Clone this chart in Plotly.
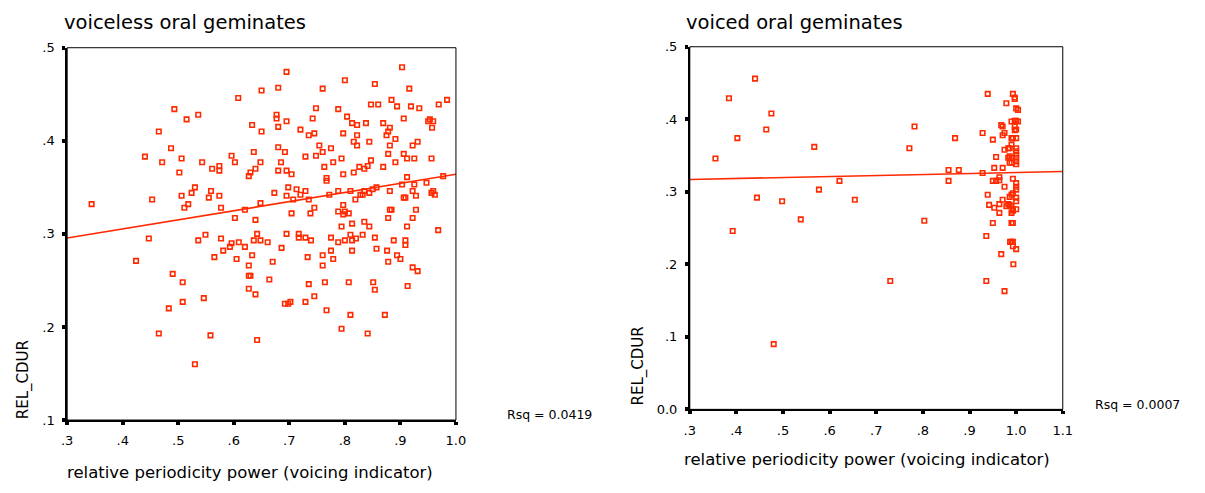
import plotly.graph_objects as go

W, H = 1205, 493

# ---------------- data ----------------
left_title = "voiceless oral geminates"
right_title = "voiced oral geminates"
x_title = "relative periodicity power (voicing indicator)"
y_title = "REL_CDUR"
left_rsq = "Rsq = 0.0419"
right_rsq = "Rsq = 0.0007"

left_x = [
    0.344, 0.493, 0.515, 0.536, 0.465, 0.608, 0.650, 0.633, 0.650, 0.487, 0.440, 0.471, 0.506, 0.543, 0.596, 0.602,
    0.636, 0.648, 0.502, 0.561, 0.574, 0.574, 0.639, 0.630, 0.627, 0.530, 0.524, 0.559, 0.506, 0.555, 0.574, 0.453,
    0.518, 0.511, 0.577, 0.620, 0.648, 0.602, 0.639, 0.642,
    0.447, 0.536, 0.549, 0.577, 0.596, 0.593, 0.609, 0.620, 0.636, 0.648, 0.581, 0.565, 0.605, 0.633, 0.627, 0.627,
    0.630, 0.627, 0.639, 0.424, 0.490, 0.508, 0.508, 0.546, 0.483, 0.465, 0.558, 0.642, 0.530,
    0.695, 0.903, 0.800, 0.854, 0.680, 0.760, 0.916, 0.984, 0.884, 0.847, 0.860, 0.894, 0.919, 0.934, 0.969, 0.748,
    0.788, 0.677, 0.677, 0.742, 0.804, 0.695, 0.813, 0.822, 0.838, 0.869, 0.906, 0.950, 0.953, 0.959, 0.957, 0.680,
    0.720, 0.881, 0.878, 0.875, 0.735, 0.745, 0.797, 0.822, 0.891, 0.816, 0.822, 0.844, 0.881, 0.931, 0.922, 0.680,
    0.754, 0.692, 0.760, 0.775, 0.748, 0.729, 0.878, 0.906, 0.912, 0.925, 0.956, 0.794, 0.685, 0.779, 0.847, 0.891,
    0.841, 0.835, 0.826, 0.869, 0.763, 0.680, 0.695, 0.704, 0.797, 0.816, 0.767, 0.767, 0.977, 0.912, 0.947, 0.903,
    0.925, 0.698, 0.713, 0.729, 0.720, 0.673, 0.695, 0.707, 0.735, 0.772, 0.788, 0.810, 0.828, 0.832, 0.835, 0.844,
    0.857, 0.850, 0.881, 0.922, 0.928, 0.906, 0.909, 0.956, 0.959, 0.962, 0.819, 0.745, 0.704, 0.738, 0.797, 0.788,
    0.800, 0.807, 0.797, 0.881, 0.884, 0.928, 0.878, 0.922, 0.813, 0.835, 0.844, 0.794, 0.912, 0.968, 0.695, 0.717,
    0.717, 0.729, 0.739, 0.775, 0.788, 0.800, 0.810, 0.813, 0.820, 0.832, 0.854, 0.888, 0.909, 0.909, 0.661, 0.686,
    0.733, 0.760, 0.775, 0.779, 0.813, 0.857, 0.876, 0.894, 0.900, 0.878, 0.922, 0.931, 0.670, 0.760, 0.664, 0.735,
    0.764, 0.807, 0.851, 0.854, 0.913, 0.745, 0.729, 0.692, 0.698, 0.702, 0.767, 0.810, 0.872, 0.794, 0.841,
]
left_y = [
    0.332, 0.434, 0.423, 0.428, 0.410, 0.446, 0.454, 0.417, 0.410, 0.392, 0.383, 0.377, 0.381, 0.377, 0.384, 0.377,
    0.388, 0.377, 0.366, 0.370, 0.373, 0.368, 0.370, 0.366, 0.362, 0.350, 0.344, 0.346, 0.341, 0.339, 0.341, 0.337,
    0.332, 0.328, 0.328, 0.326, 0.333, 0.317, 0.315, 0.300,
    0.295, 0.293, 0.299, 0.295, 0.290, 0.286, 0.291, 0.286, 0.293, 0.293, 0.282, 0.275, 0.273, 0.277, 0.266, 0.255,
    0.255, 0.241, 0.235, 0.271, 0.257, 0.248, 0.227, 0.231, 0.220, 0.193, 0.191, 0.186, 0.160,
    0.474, 0.479, 0.465, 0.461, 0.457, 0.456, 0.456, 0.444, 0.444, 0.439, 0.439, 0.437, 0.437, 0.435, 0.439, 0.435,
    0.434, 0.428, 0.424, 0.424, 0.426, 0.421, 0.419, 0.417, 0.419, 0.419, 0.424, 0.421, 0.423, 0.421, 0.414, 0.415,
    0.412, 0.414, 0.410, 0.406, 0.406, 0.408, 0.408, 0.406, 0.402, 0.399, 0.395, 0.399, 0.395, 0.399, 0.395, 0.393,
    0.395, 0.388, 0.388, 0.392, 0.384, 0.383, 0.386, 0.386, 0.381, 0.381, 0.381, 0.381, 0.377, 0.377, 0.379, 0.377,
    0.373, 0.370, 0.372, 0.372, 0.372, 0.368, 0.368, 0.364, 0.364, 0.366, 0.360, 0.357, 0.362, 0.361, 0.355, 0.353,
    0.353, 0.350, 0.348, 0.346, 0.342, 0.344, 0.341, 0.337, 0.337, 0.342, 0.346, 0.346, 0.342, 0.342, 0.346, 0.344,
    0.350, 0.348, 0.346, 0.346, 0.341, 0.339, 0.339, 0.344, 0.346, 0.342, 0.337, 0.328, 0.322, 0.322, 0.331, 0.324,
    0.324, 0.322, 0.321, 0.326, 0.326, 0.326, 0.317, 0.317, 0.311, 0.313, 0.308, 0.308, 0.308, 0.304, 0.300, 0.300,
    0.296, 0.296, 0.293, 0.296, 0.291, 0.293, 0.299, 0.293, 0.295, 0.299, 0.296, 0.293, 0.293, 0.288, 0.291, 0.285,
    0.275, 0.277, 0.282, 0.273, 0.282, 0.284, 0.282, 0.277, 0.273, 0.270, 0.264, 0.260, 0.270, 0.266, 0.251, 0.246,
    0.248, 0.248, 0.248, 0.240, 0.244, 0.233, 0.227, 0.225, 0.225, 0.227, 0.218, 0.213, 0.213, 0.198, 0.193,
]

right_x = [
    0.355, 0.384, 0.402, 0.392, 0.440, 0.444, 0.464, 0.475, 0.498, 0.538, 0.567, 0.577, 0.621, 0.654, 0.771, 0.782,
    0.803, 0.855, 0.877, 0.855, 0.869, 0.928, 0.928, 0.939, 0.939, 0.936, 0.942, 0.950, 0.953, 0.957, 0.950, 0.957,
    0.953, 0.950, 0.964, 0.964, 0.964, 0.964, 0.971, 0.971, 0.975, 0.968, 0.971, 0.975, 0.971, 0.975, 0.979, 0.983,
    0.986, 0.983, 0.986, 0.990, 0.986, 0.990, 0.983, 0.979, 0.986, 0.990, 0.986, 0.990, 0.990, 0.993, 0.990, 0.993,
    0.990, 0.990, 0.990, 0.993, 0.997, 0.997, 0.997, 1.000, 1.004, 0.997, 1.000, 0.997, 1.000, 1.004, 0.993, 1.000,
    1.000, 1.000, 1.000, 1.000, 1.000, 1.000, 0.993, 1.000, 1.000, 1.000, 0.993, 1.000, 1.000, 1.000, 0.993, 0.987,
    0.990, 0.993, 0.993, 1.000, 0.968, 0.994, 0.936, 0.975, 0.730, 0.480,
]
right_y = [
    0.346, 0.429, 0.374, 0.246, 0.456, 0.292, 0.386, 0.408, 0.287, 0.262, 0.362, 0.303, 0.315, 0.289, 0.360, 0.390,
    0.260, 0.330, 0.330, 0.315, 0.374, 0.381, 0.326, 0.435, 0.296, 0.239, 0.282, 0.372, 0.333, 0.348, 0.315, 0.315,
    0.278, 0.257, 0.320, 0.316, 0.283, 0.271, 0.333, 0.289, 0.307, 0.392, 0.390, 0.381, 0.378, 0.358, 0.422, 0.360,
    0.360, 0.347, 0.349, 0.347, 0.340, 0.340, 0.283, 0.280, 0.282, 0.280, 0.293, 0.296, 0.271, 0.274, 0.257, 0.257,
    0.397, 0.374, 0.365, 0.435, 0.430, 0.428, 0.398, 0.398, 0.397, 0.385, 0.386, 0.390, 0.415, 0.413, 0.374, 0.374,
    0.360, 0.356, 0.351, 0.347, 0.342, 0.338, 0.318, 0.312, 0.307, 0.303, 0.298, 0.292, 0.287, 0.276, 0.276, 0.231,
    0.231, 0.231, 0.225, 0.221, 0.214, 0.200, 0.177, 0.163, 0.177, 0.090,
]

# fitted regression lines (endpoints)
left_fit_x = [0.3, 1.0]
left_fit_y = [0.2955, 0.364]
right_fit_x = [0.3, 1.1]
right_fit_y = [0.317, 0.328]

left_xticks = [0.3, 0.4, 0.5, 0.6, 0.7, 0.8, 0.9, 1.0]
left_xlabels = [".3", ".4", ".5", ".6", ".7", ".8", ".9", "1.0"]
left_yticks = [0.1, 0.2, 0.3, 0.4, 0.5]
left_ylabels = [".1", ".2", ".3", ".4", ".5"]
right_xticks = [0.3, 0.4, 0.5, 0.6, 0.7, 0.8, 0.9, 1.0, 1.1]
right_xlabels = [".3", ".4", ".5", ".6", ".7", ".8", ".9", "1.0", "1.1"]
right_yticks = [0.0, 0.1, 0.2, 0.3, 0.4, 0.5]
right_ylabels = ["0.0", ".1", ".2", ".3", ".4", ".5"]

# ---------------- style ----------------
RED = "#ff2a00"
FONT = "DejaVu Sans"


def px(x):
    return x / W


def py(y):
    return 1 - y / H


fig = go.Figure()

marker = dict(symbol="square-open", size=4.5, color=RED, line=dict(color=RED, width=1.6))

fig.add_trace(go.Scatter(x=left_x, y=left_y, mode="markers", marker=marker, xaxis="x", yaxis="y",
                         showlegend=False, hoverinfo="x+y"))
fig.add_trace(go.Scatter(x=left_fit_x, y=left_fit_y, mode="lines", line=dict(color=RED, width=1.6),
                         xaxis="x", yaxis="y", showlegend=False))
fig.add_trace(go.Scatter(x=right_x, y=right_y, mode="markers", marker=marker, xaxis="x2", yaxis="y2",
                         showlegend=False, hoverinfo="x+y"))
fig.add_trace(go.Scatter(x=right_fit_x, y=right_fit_y, mode="lines", line=dict(color=RED, width=1.6),
                         xaxis="x2", yaxis="y2", showlegend=False))

axis_common = dict(showgrid=False, zeroline=False, showline=True, linecolor="black", linewidth=1.6,
                   ticks="outside", ticklen=3, tickwidth=4, tickcolor="black", ticklabelstandoff=5,
                   tickfont=dict(family=FONT, size=13, color="black"))

fig.update_layout(
    width=W, height=H,
    margin=dict(l=0, r=0, t=0, b=0),
    paper_bgcolor="white", plot_bgcolor="white",
    xaxis=dict(domain=[px(62), px(456)], range=[0.3, 1.0], tickvals=left_xticks, ticktext=left_xlabels,
               anchor="y", **axis_common),
    yaxis=dict(domain=[py(426), py(42)], range=[0.1, 0.5], tickvals=left_yticks, ticktext=left_ylabels,
               anchor="x", **axis_common),
    xaxis2=dict(domain=[px(693), px(1071)], range=[0.3, 1.1], tickvals=right_xticks, ticktext=right_xlabels,
                anchor="y2", **axis_common),
    yaxis2=dict(domain=[py(415), py(41)], range=[0.0, 0.5], tickvals=right_yticks, ticktext=right_ylabels,
                anchor="x2", **axis_common),
)

# thin frame (top / right)
for xr, yr in (("x domain", "y domain"), ("x2 domain", "y2 domain")):
    fig.add_shape(type="rect", xref=xr, yref=yr, x0=0, x1=1, y0=0, y1=1,
                  line=dict(color="black", width=1), layer="above")

ann = []
ann.append(dict(text=left_title, x=px(57), y=py(16), xanchor="left", yanchor="middle",
                font=dict(family=FONT, size=19.5, color="black")))
ann.append(dict(text=right_title, x=px(687), y=py(16), xanchor="left", yanchor="middle",
                font=dict(family=FONT, size=19.5, color="black")))
ann.append(dict(text=x_title, x=px(247), y=py(480), xanchor="center", yanchor="middle",
                font=dict(family=FONT, size=16.5, color="black")))
ann.append(dict(text=x_title, x=px(873), y=py(467), xanchor="center", yanchor="middle",
                font=dict(family=FONT, size=16.5, color="black")))
ann.append(dict(text=y_title, x=px(18), y=py(427), xanchor="center", yanchor="bottom", textangle=-90,
                font=dict(family=FONT, size=15, color="black")))
ann.append(dict(text=y_title, x=px(641), y=py(413), xanchor="center", yanchor="bottom", textangle=-90,
                font=dict(family=FONT, size=15, color="black")))
ann.append(dict(text=left_rsq, x=px(506), y=py(420), xanchor="left", yanchor="middle",
                font=dict(family=FONT, size=12.5, color="black")))
ann.append(dict(text=right_rsq, x=px(1102), y=py(410), xanchor="left", yanchor="middle",
                font=dict(family=FONT, size=12.5, color="black")))
for a in ann:
    a.update(xref="paper", yref="paper", showarrow=False)
fig.update_layout(annotations=ann)

fig.write_html("out.html")
